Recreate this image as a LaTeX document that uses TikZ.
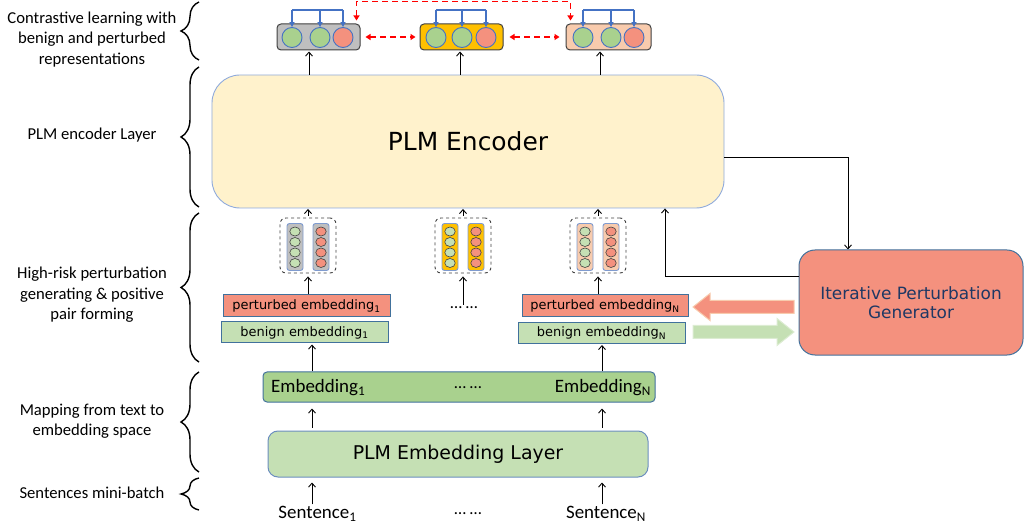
\documentclass[tikz,border=0pt]{standalone}
\usepackage{fontspec}
\setmainfont{Carlito}
\newfontfamily\vfont{DejaVu Sans}
\usetikzlibrary{arrows.meta,decorations.pathreplacing,shapes.geometric}
\definecolor{vgray}{HTML}{BFBFBF}
\definecolor{vyel}{HTML}{FFC000}
\definecolor{vpeach}{HTML}{F8CBAD}
\definecolor{cgreen}{HTML}{A9D18E}
\definecolor{lgreen}{HTML}{C5E0B4}
\definecolor{cred}{HTML}{F4917E}
\definecolor{cblue}{HTML}{4472C4}
\definecolor{eborder}{HTML}{41719C}
\definecolor{encfill}{HTML}{FFF2CC}
\definecolor{encborder}{HTML}{8FAADC}
\definecolor{colb}{HTML}{7F9BCF}
\definecolor{navy}{HTML}{1F3864}
\definecolor{layerb}{HTML}{6C8EBF}
\begin{document}
\begin{tikzpicture}[x=1bp,y=-1bp,
  lbl/.style={align=center,font=\fontsize{16.7}{20.5}\selectfont,inner sep=0},
  brc/.style={decorate,decoration={brace,amplitude=18bp},line width=1.4bp},
  arr/.style={-{Straight Barb[length=4bp,width=7bp]},line width=0.9bp},
  vec/.style={draw=black!75,rounded corners=4bp,line width=1bp,minimum width=83bp,minimum height=26bp,inner sep=0},
  dot/.style={circle,draw=cblue,line width=0.9bp,minimum size=20bp,inner sep=0},
  sdot/.style={ellipse,draw=black!75,line width=0.6bp,minimum width=10.5bp,minimum height=9bp,inner sep=0},
  col/.style={draw=colb,rounded corners=2.5bp,line width=0.9bp,minimum width=16bp,minimum height=47bp,inner sep=0},
  pairbox/.style={draw=black!75,dashed,rounded corners=6bp,line width=0.9bp,minimum width=56bp,minimum height=55bp,inner sep=0},
  ebox/.style={draw=eborder,line width=1bp,inner sep=0,minimum height=22bp,font=\vfont\fontsize{13}{15}\selectfont},
  bluearr/.style={draw=cblue,line width=1.2bp,-{Triangle[length=5bp,width=5bp]}},
  reddash/.style={draw=red,line width=1.3bp,dash pattern=on 6bp off 4bp,{Triangle[length=5bp,width=6bp]}-{Triangle[length=5bp,width=6bp]}},
  txt/.style={font=\fontsize{19}{22}\selectfont,inner sep=1bp}
]
\useasboundingbox (0,0) rectangle (1025,528);

% ---- left labels and braces
\node[lbl] (l1) at (92,39.5) {Contrastive learning with\\benign and perturbed\\representations};
\node[lbl] (l2) at (92,135) {PLM encoder Layer};
\node[lbl] (l3) at (92,295) {High-risk perturbation\\generating \& positive\\pair forming};
\node[lbl] (l4) at (92,421) {Mapping from text to\\embedding space};
\node[lbl] (l5) at (92,493) {Sentences mini-batch};
\draw[brc] (199,60) -- (199,2);
\draw[brc] (199,207) -- (199,67);
\draw[brc] (199,362) -- (199,213);
\draw[brc] (199,472) -- (199,372);
\draw[brc] (199,510) -- (199,478);

% ---- top vectors
\node[vec,fill=vgray] (v1) at (318.5,37) {};
\node[dot,fill=cgreen] (v1a) at (292,37.5) {};
\node[dot,fill=cgreen] (v1b) at (320,37.5) {};
\node[dot,fill=cred] (v1c) at (343,37.5) {};
\node[vec,fill=vyel] (v2) at (461.5,37) {};
\node[dot,fill=cgreen] (v2a) at (436,37.5) {};
\node[dot,fill=cgreen] (v2b) at (462,37.5) {};
\node[dot,fill=cred] (v2c) at (486,37.5) {};
\node[vec,fill=vpeach,minimum width=85bp] (v3) at (608.5,37) {};
\node[dot,fill=cgreen] (v3a) at (583,37.5) {};
\node[dot,fill=cgreen] (v3b) at (611,37.5) {};
\node[dot,fill=cred] (v3c) at (634,37.5) {};

\coordinate (bt) at (0,10);
\foreach \v in {v1,v2,v3}{
  \draw[cblue,line width=1.2bp] (\v a.north |- bt) -- (\v c.north |- bt);
  \foreach \c in {a,b,c}
    \draw[bluearr] (\v\c.north |- bt) -- (\v\c.north);
}
\coordinate (rt) at (0,1.5);
\draw[reddash] ([xshift=-4bp,yshift=3bp]v1.north east) -- ([xshift=-4bp]v1.north east |- rt) -- ([xshift=5bp]v3.north west |- rt) -- ([xshift=5bp,yshift=3bp]v3.north west);
\draw[reddash] ([xshift=5bp]v1.east) -- ([xshift=-4bp]v2.west);
\draw[reddash] ([xshift=6bp]v2.east) -- ([xshift=-6bp]v3.west);

% ---- encoder
\node[draw=encborder,fill=encfill,rounded corners=28bp,line width=0.9bp,minimum width=512bp,minimum height=133bp,font=\vfont\fontsize{25}{30}\selectfont] (enc) at (468,141.5) {PLM Encoder};
\coordinate (c1) at (309,0);
\coordinate (c2) at (460,0);
\coordinate (c3) at (600,0);
\draw[arr,shorten >=1bp] (enc.north -| c1) -- (v1.south -| c1);
\draw[arr,shorten >=1bp] (enc.north -| c2) -- (v2.south -| c2);
\draw[arr,shorten >=1bp] (enc.north -| c3) -- (v3.south -| c3);

% ---- pair boxes
\node[pairbox] (p1) at (308,245.5) {};
\node[pairbox] (p2) at (463,245.5) {};
\node[pairbox] (p3) at (598,245.5) {};
\foreach \p/\x/\f in {p1/308/vgray,p2/463/vyel,p3/598/vpeach}{
  \node[col,fill=\f] (\p g) at (\x-13,247) {};
  \node[col,fill=\f] (\p r) at (\x+13,247) {};
  \foreach \i/\y in {1/231.5,2/242,3/252.5,4/263}{
    \node[sdot,fill=lgreen] (\p g\i) at (\x-13,\y) {};
    \node[sdot,fill=cred] (\p r\i) at (\x+13,\y) {};
  }
  \draw[arr,shorten <=1.5bp,shorten >=0.5bp] (\p.north) -- (enc.south -| \p.north);
}

% ---- embeddings boxes
\node[ebox,fill=cred,minimum width=167bp] (pe1) at (306.5,306) {perturbed embedding\textsubscript{1}};
\node[ebox,fill=lgreen,minimum width=167bp,minimum height=21bp] (be1) at (304.5,332.5) {benign embedding\textsubscript{1}};
\node[ebox,fill=cred,minimum width=166bp] (peN) at (605,306) {perturbed embedding\textsubscript{N}};
\node[ebox,fill=lgreen,minimum width=167bp,minimum height=21bp] (beN) at (601.5,333) {benign embedding\textsubscript{N}};
\node[txt,font=\fontsize{17}{20}\selectfont] (mdots) at (464,308) {… …};
\draw[arr,shorten >=3bp] (pe1.north -| p1.south) -- (p1.south);
\draw[arr,shorten >=3bp,shorten <=1bp] (mdots.north -| p2.south) -- (p2.south);
\draw[arr,shorten >=3bp] (peN.north -| p3.south) -- (p3.south);

% ---- generator
\node[draw=eborder,fill=cred,rounded corners=16bp,line width=1bp,minimum width=224bp,minimum height=105bp,align=center,text=navy,font=\vfont\fontsize{17}{19.5}\selectfont] (gen) at (911,302.5) {Iterative Perturbation\\Generator};
\draw[arr] ([yshift=-15.5bp]enc.east) -| ([xshift=-63bp]gen.north);
\draw[arr] ([yshift=26.5bp]gen.west) -| ([xshift=197bp]enc.south);
% big arrows
\draw[fill=cred,draw=vpeach,line width=1bp] (794,300.5) -- (710,300.5) -- (710,293.5) -- (693,307) -- (710,320.5) -- (710,313.5) -- (794,313.5) -- cycle;
\draw[fill=lgreen,draw=lgreen!60,line width=1bp] (693,325.5) -- (777,325.5) -- (777,318.5) -- (794,332) -- (777,345.5) -- (777,338.5) -- (693,338.5) -- cycle;

% ---- embedding bar
\node[draw=eborder,fill=cgreen,rounded corners=4bp,line width=1bp,minimum width=392bp,minimum height=30bp] (ebar) at (459,387) {};
\node[txt,anchor=west] (e1) at (270,388) {Embedding\textsubscript{1}};
\node[txt,font=\fontsize{17}{20}\selectfont] (edots) at (468,388) {… …};
\node[txt,anchor=east] (eN) at (652,388) {Embedding\textsubscript{N}};
\coordinate (a1) at (312,0);
\coordinate (a2) at (602,0);
\draw[arr,shorten >=1bp] (ebar.north -| a1) -- (be1.south -| a1);
\draw[arr,shorten >=1bp] (ebar.north -| a2) -- (beN.south -| a2);

% ---- embedding layer
\node[draw=layerb,fill=lgreen,rounded corners=10bp,line width=1bp,minimum width=380bp,minimum height=46bp,font=\vfont\fontsize{19}{22}\selectfont] (layer) at (458,454) {PLM Embedding Layer};
\draw[arr,shorten <=3bp,shorten >=6bp] (layer.north -| a1) -- (ebar.south -| a1);
\draw[arr,shorten <=3bp,shorten >=6bp] (layer.north -| a2) -- (ebar.south -| a2);

% ---- sentences
\node[txt] (s1) at (317.5,514) {Sentence\textsubscript{1}};
\node[txt,font=\fontsize{17}{20}\selectfont] (sdots) at (468,514) {… …};
\node[txt] (sN) at (606,514) {Sentence\textsubscript{N}};
\draw[arr,shorten <=1bp,shorten >=5bp] (s1.north -| a1) -- (layer.south -| a1);
\draw[arr,shorten <=1bp,shorten >=5bp] (sN.north -| a2) -- (layer.south -| a2);
\end{tikzpicture}
\end{document}
